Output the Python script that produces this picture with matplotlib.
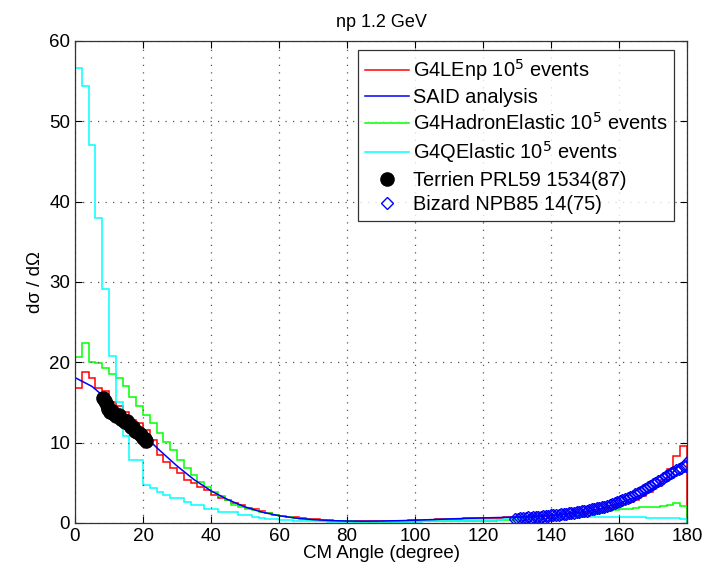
import numpy as np
import matplotlib
matplotlib.use("Agg")
import matplotlib.pyplot as plt

plt.rcParams['font.family'] = ['Liberation Sans', 'DejaVu Sans']

# ---- data ----
bin_edges_deg = np.arange(0, 181, 2)

g4lenp = [16.8, 18.8, 18.0, 16.8, 16.4, 15.0, 14.6, 13.8, 12.8, 12.5,
          11.6, 10.3, 8.5, 7.6, 6.8, 6.2, 5.4, 5.0, 4.5, 4.1,
          3.5, 3.1, 2.8, 2.5, 2.2, 1.9, 1.7, 1.45, 1.2, 1.05,
          0.9, 0.8, 0.7, 0.6, 0.52, 0.45, 0.4, 0.35, 0.3, 0.28,
          0.26, 0.25, 0.24, 0.23, 0.24, 0.25, 0.26, 0.28, 0.3, 0.32,
          0.35, 0.38, 0.42, 0.45, 0.48, 0.52, 0.55, 0.58, 0.6, 0.62,
          0.64, 0.66, 0.68, 0.7, 0.72, 0.74, 0.78, 0.82, 0.86, 0.9,
          0.95, 1.02, 1.1, 1.2, 1.3, 1.4, 1.55, 1.7, 1.9, 2.1,
          2.35, 2.6, 2.9, 3.3, 3.8, 4.6, 5.4, 6.7, 8.3, 9.6]

g4hadron = [20.6, 22.4, 20.1, 19.9, 19.3, 18.6, 18.0, 17.0, 15.7, 14.6,
            13.4, 12.4, 11.2, 10.1, 9.1, 7.8, 6.8, 6.0, 5.1, 4.5,
            3.9, 3.3, 2.8, 2.2, 2.0, 1.8, 1.6, 1.4, 1.2, 1.0,
            0.85, 0.72, 0.6, 0.5, 0.42, 0.36, 0.3, 0.27, 0.24, 0.22,
            0.2, 0.18, 0.17, 0.16, 0.16, 0.16, 0.17, 0.17, 0.18, 0.18,
            0.2, 0.2, 0.21, 0.22, 0.22, 0.23, 0.24, 0.25, 0.26, 0.27,
            0.28, 0.3, 0.32, 0.34, 0.37, 0.4, 0.45, 0.5, 0.55, 0.6,
            0.68, 0.75, 0.82, 0.9, 1.0, 1.1, 1.2, 1.35, 1.5, 1.6,
            1.7, 1.8, 1.9, 2.0, 2.0, 2.0, 2.1, 2.2, 2.5, 2.1]

g4qelastic = [56.6, 54.4, 47.0, 38.0, 29.1, 20.8, 15.0, 10.8, 7.8, 7.8,
              4.7, 4.3, 3.9, 3.5, 3.1, 3.1, 2.65, 2.2, 2.2, 1.8,
              1.8, 1.4, 1.4, 1.4, 1.0, 1.0, 0.8, 0.6, 0.5, 0.45,
              0.4, 0.35, 0.3, 0.28, 0.25, 0.22, 0.2, 0.18, 0.17, 0.15,
              0.14, 0.13, 0.12, 0.12, 0.12, 0.12, 0.13, 0.14, 0.15, 0.17,
              0.18, 0.2, 0.22, 0.24, 0.26, 0.28, 0.3, 0.32, 0.34, 0.36,
              0.38, 0.4, 0.42, 0.44, 0.46, 0.48, 0.5, 0.53, 0.56, 0.6,
              0.63, 0.66, 0.7, 0.72, 0.75, 0.77, 0.79, 0.8, 0.8, 0.8,
              0.8, 0.78, 0.76, 0.72, 0.68, 0.65, 0.62, 0.6, 0.58, 0.55]

said_angle = [0, 5, 10, 15, 20, 25, 30, 35, 40, 45, 50, 55, 60, 65, 70, 75, 80, 85, 90,
              95, 100, 105, 110, 115, 120, 125, 130, 135, 140, 145, 150, 155, 160, 165,
              170, 175, 180]
said_xs = [18.1, 17.0, 15.2, 13.2, 11.0, 9.0, 7.1, 5.4, 4.0, 2.9, 2.0, 1.35, 0.9, 0.6,
           0.42, 0.3, 0.24, 0.22, 0.24, 0.28, 0.34, 0.42, 0.5, 0.57, 0.63, 0.68, 0.74,
           0.82, 0.95, 1.15, 1.45, 1.85, 2.45, 3.2, 4.3, 5.9, 8.2]

terrien_angle = [8.3, 8.8, 9.3, 9.8, 10.4, 11.0, 11.6, 12.2, 12.8, 13.4, 14.0, 14.6,
                 15.2, 15.8, 16.4, 17.0, 17.6, 18.2, 18.8, 19.4, 20.0, 20.6, 21.0]
terrien_xs = [15.5, 15.2, 14.7, 14.2, 13.8, 13.9, 13.6, 13.3, 13.4, 13.0, 12.8, 12.6,
              12.7, 12.3, 12.0, 11.9, 11.5, 11.3, 11.2, 11.0, 10.6, 10.4, 10.2]

bizard_angle = [129.5, 130.2, 131.0, 131.7, 132.5, 133.2, 134.0, 134.7, 135.5, 136.2,
                137.0, 137.7, 138.5, 139.2, 140.0, 140.7, 141.5, 142.2, 143.0, 143.7,
                144.5, 145.2, 146.0, 146.7, 147.5, 148.2, 149.0, 149.7, 150.5, 151.2,
                152.0, 152.7, 153.5, 154.2, 155.0, 155.7, 156.5, 157.2, 158.0, 158.7,
                159.5, 160.2, 161.0, 161.7, 162.5, 163.2, 164.0, 164.7, 165.5, 166.2,
                167.0, 167.7, 168.5, 169.2, 170.0, 170.7, 171.5, 172.2, 173.0, 173.7,
                174.5, 175.2, 176.0, 176.7, 177.5, 178.2, 179.0, 179.7]
bizard_xs = [0.55, 0.5, 0.6, 0.65, 0.6, 0.7, 0.65, 0.75, 0.7, 0.8,
             0.78, 0.85, 0.9, 0.88, 0.95, 1.0, 0.98, 1.05, 1.1, 1.08,
             1.15, 1.2, 1.25, 1.3, 1.35, 1.4, 1.45, 1.5, 1.55, 1.6,
             1.7, 1.75, 1.85, 1.9, 2.0, 2.05, 2.15, 2.25, 2.35, 2.45,
             2.6, 2.7, 2.85, 2.95, 3.1, 3.25, 3.4, 3.55, 3.75, 3.9,
             4.1, 4.25, 4.45, 4.6, 4.8, 5.0, 5.2, 5.4, 5.6, 5.8,
             6.0, 6.2, 6.4, 6.55, 6.75, 6.9, 7.05, 7.15]

# ---- figure ----
fig = plt.figure(figsize=(7.17, 5.74), dpi=100)
ax = fig.add_axes([0.1046, 0.0889, 0.8536, 0.8397])

ax.stairs(g4lenp, bin_edges_deg, color=(1, 0, 0), lw=1.1, label='G4LEnp 10$^5$ events')
ax.plot(said_angle, said_xs, color=(0, 0, 1), lw=1.1, label='SAID analysis')
ax.stairs(g4hadron, bin_edges_deg, color=(0, 1, 0), lw=1.1, label='G4HadronElastic 10$^5$ events')
ax.stairs(g4qelastic, bin_edges_deg, color=(0, 1, 1), lw=1.1, label='G4QElastic 10$^5$ events')
ax.plot(terrien_angle, terrien_xs, 'o', color='black', ms=9.5, ls='none',
        label='Terrien PRL59 1534(87)')
ax.plot(bizard_angle, bizard_xs, 'D', mfc='none', mec=(0, 0, 1), ms=6.3, mew=1.0, ls='none',
        label='Bizard NPB85 14(75)')

ax.set_xlim(0, 180)
ax.set_ylim(0, 60)
ax.set_xticks(np.arange(0, 181, 20))
ax.set_yticks(np.arange(0, 61, 10))
ax.tick_params(direction='in', top=True, right=True, labelsize=13.5, length=5)
ax.grid(True, linestyle=(0, (1, 5)), color='#555555', lw=0.9)
for s in ax.spines.values():
    s.set_linewidth(0.9)
    s.set_color('#333333')

ax.set_xlabel('CM Angle (degree)', fontsize=13.5, labelpad=0)
ax.set_ylabel('dσ / dΩ', fontsize=13.5, labelpad=4)
ax.set_title('np 1.2 GeV', fontsize=13, pad=10)

leg = ax.legend(loc='upper right', bbox_to_anchor=(674 / 717, 1 - 50 / 574),
                bbox_transform=fig.transFigure, fontsize=14.4, frameon=True,
                fancybox=False, edgecolor='black', borderpad=0.35, labelspacing=0.26,
                handlelength=2.2, handletextpad=0.2, borderaxespad=0.0)
leg.get_frame().set_linewidth(0.9)

fig.savefig('out.png', dpi=100)
